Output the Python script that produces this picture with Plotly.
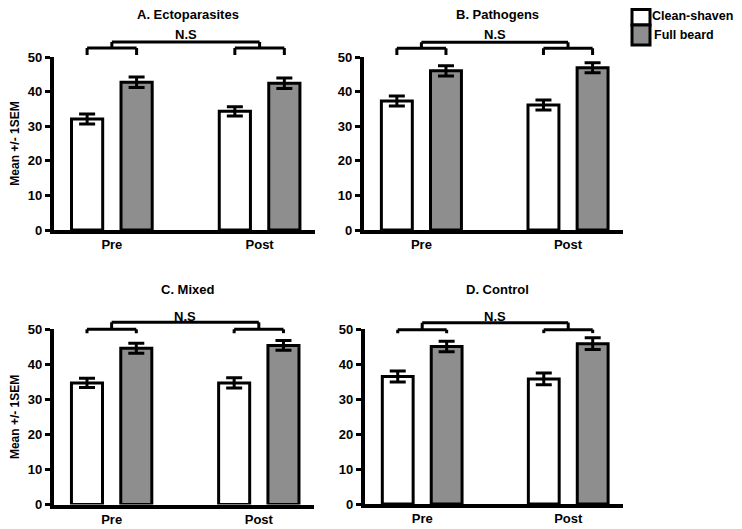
import plotly.graph_objects as go

# ---------------- data ----------------
categories = ["Pre", "Post"]
panel_titles = ["A. Ectoparasites", "B. Pathogens", "C. Mixed", "D. Control"]
series_names = ["Clean-shaven", "Full beard"]

clean_mean = [[32.1, 34.3], [37.3, 36.1], [34.7, 34.7], [36.5, 35.8]]
clean_sem = [[1.45, 1.35], [1.45, 1.45], [1.3, 1.45], [1.6, 1.7]]
beard_mean = [[42.7, 42.4], [46.0, 46.9], [44.6, 45.4], [45.1, 45.9]]
beard_sem = [[1.5, 1.5], [1.5, 1.45], [1.4, 1.4], [1.5, 1.65]]

sig_label = "N.S"
y_title = "Mean +/- 1SEM"
y_ticks = [0, 10, 20, 30, 40, 50]

# ---------------- style / layout ----------------
PAGE_OFFSET = 8          # default body margin of the html page
W, H = 742 - PAGE_OFFSET, 529 - PAGE_OFFSET
clean_color = "white"
beard_color = "#8e8e8e"
FONT = "Liberation Sans, Arial, sans-serif"
BARGAP = 0.33
BARGROUPGAP = 0.37

def px_x(p):
    return (p - PAGE_OFFSET) / W

def px_y(p):
    return 1 - (p - PAGE_OFFSET) / H

# pixel geometry of each panel in the window: (x_left, x_right, y_bottom, y_top)
panel_px = [
    (53.5, 315, 230, 57),
    (363.5, 623, 230, 57),
    (53.5, 314, 504.5, 329.3),
    (364.5, 623, 504, 329.3),
]
# bracket levels in y-domain units: (leg bottom, small bracket, big bracket, label)
bracket_levels = [
    (1.012, 1.052, 1.087, 1.128),
    (1.012, 1.050, 1.085, 1.128),
    (0.978, 1.000, 1.040, 1.074),
    (0.978, 0.998, 1.038, 1.074),
]
title_px = [(188, 14.5), (497, 14.5), (188, 289), (497, 289)]

fig = go.Figure()
layout = dict(
    width=W, height=H, autosize=False,
    margin=dict(l=0, r=0, t=0, b=0, pad=0, autoexpand=False),
    paper_bgcolor="white", plot_bgcolor="white",
    barmode="group", bargap=BARGAP, bargroupgap=BARGROUPGAP,
    showlegend=False,
    font=dict(family=FONT, size=12, color="black"),
)
shapes = []
annotations = []

half_slot = (1 - BARGAP) / 4  # offset of each bar centre from category centre

for i in range(4):
    sfx = "" if i == 0 else str(i + 1)
    xa, ya = "x" + sfx, "y" + sfx
    xl, xr, yb, yt = panel_px[i]

    fig.add_trace(go.Bar(
        x=categories, y=clean_mean[i], name=series_names[0],
        xaxis=xa, yaxis=ya,
        marker=dict(color=clean_color, line=dict(color="black", width=3)),
        error_y=dict(type="data", array=clean_sem[i], color="black", thickness=3, width=8),
    ))
    fig.add_trace(go.Bar(
        x=categories, y=beard_mean[i], name=series_names[1],
        xaxis=xa, yaxis=ya,
        marker=dict(color=beard_color, line=dict(color="black", width=3)),
        error_y=dict(type="data", array=beard_sem[i], color="black", thickness=3, width=8),
    ))

    layout["xaxis" + sfx] = dict(
        domain=[px_x(xl), px_x(xr)], anchor=ya, automargin=False,
        range=[-0.395, 1.375], type="category",
        showline=True, linecolor="black", linewidth=3.5,
        ticks="", showgrid=False, zeroline=False,
        tickfont=dict(family=FONT, size=13, color="black", weight="bold"),
    )
    layout["yaxis" + sfx] = dict(
        domain=[px_y(yb), px_y(yt)], anchor=xa, automargin=False,
        range=[0, 50], tickvals=y_ticks,
        showline=True, linecolor="black", linewidth=3.5,
        ticks="outside", ticklen=5, tickwidth=3, tickcolor="black",
        showgrid=False, zeroline=False,
        tickfont=dict(family=FONT, size=13, color="black", weight="bold"),
    )
    if i in (0, 2):
        layout["yaxis" + sfx]["title"] = dict(
            text=y_title, standoff=10,
            font=dict(family=FONT, size=12, color="black", weight="bold"),
        )

    # significance brackets
    lb, ls, lbig, ltxt = bracket_levels[i]
    yref = ya + " domain"
    line = dict(color="black", width=3)
    for c in range(len(categories)):
        x0, x1 = c - half_slot, c + half_slot
        shapes += [
            dict(type="line", xref=xa, yref=yref, x0=x0, x1=x1, y0=ls, y1=ls, line=line),
            dict(type="line", xref=xa, yref=yref, x0=x0, x1=x0, y0=lb, y1=ls, line=line),
            dict(type="line", xref=xa, yref=yref, x0=x1, x1=x1, y0=lb, y1=ls, line=line),
            dict(type="line", xref=xa, yref=yref, x0=c, x1=c, y0=ls, y1=lbig, line=line),
        ]
    shapes.append(dict(type="line", xref=xa, yref=yref, x0=0, x1=len(categories) - 1,
                       y0=lbig, y1=lbig, line=line))
    annotations.append(dict(
        text=sig_label, xref=xa, yref=yref, x=(len(categories) - 1) / 2, y=ltxt,
        showarrow=False, xanchor="center", yanchor="middle",
        font=dict(family=FONT, size=13, color="black", weight="bold"),
    ))
    tx, ty = title_px[i]
    annotations.append(dict(
        text=panel_titles[i], xref="paper", yref="paper", x=px_x(tx), y=px_y(ty),
        showarrow=False, xanchor="center", yanchor="middle",
        font=dict(family=FONT, size=13, color="black", weight="bold"),
    ))

# manual legend (big boxes like the original)
legend_colors = [clean_color, beard_color]
legend_rows = [(9.5, 25), (25, 45)]
legend_text_y = [16, 35]
legend_text_x = [650.5, 653]
for (y0, y1), col, name, ty, tx in zip(legend_rows, legend_colors, series_names,
                                       legend_text_y, legend_text_x):
    shapes.append(dict(type="rect", xref="paper", yref="paper",
                       x0=px_x(632), x1=px_x(650), y0=px_y(y1), y1=px_y(y0),
                       fillcolor=col, line=dict(color="black", width=3)))
    annotations.append(dict(
        text=name, xref="paper", yref="paper", x=px_x(tx), y=px_y(ty),
        showarrow=False, xanchor="left", yanchor="middle", borderpad=0,
        font=dict(family=FONT, size=12.5, color="black", weight="bold"),
    ))

layout["shapes"] = shapes
layout["annotations"] = annotations
fig.update_layout(**layout)
fig.write_html("out.html")
